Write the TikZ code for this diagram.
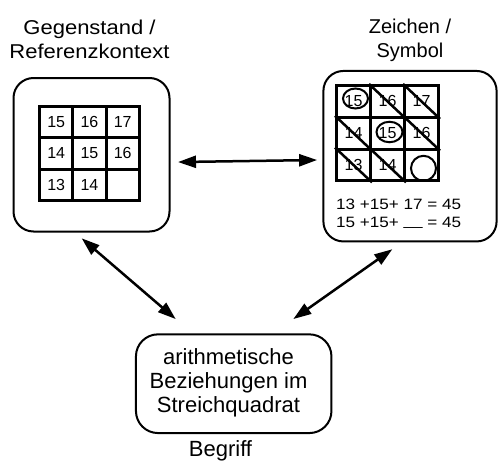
\documentclass[tikz,border=0pt]{standalone}
\usepackage{fontspec}
\setmainfont{Liberation Sans}
\newfontfamily\widesans[FakeStretch=1.1]{Liberation Sans}
\newfontfamily\eqsans[FakeStretch=1.14]{Liberation Sans}
\usetikzlibrary{arrows.meta,shapes.geometric}

\begin{document}
\begin{tikzpicture}[x=1pt,y=-1pt,
  panel/.style={draw, line width=2pt, rounded corners=20pt, inner sep=0pt},
  lcell/.style={draw, line width=3pt, inner sep=0pt,
    minimum width=33.3pt, minimum height=31.3pt, font=\fontsize{16}{16}\selectfont},
  rcell/.style={draw, line width=3pt, inner sep=0pt,
    minimum width=34pt, minimum height=31.8pt, font=\fontsize{16}{16}\selectfont},
  ring/.style={draw, ellipse, line width=2pt, inner sep=0pt},
  slash/.style={line width=2.5pt},
  caption/.style={align=center, inner sep=0pt},
  eqline/.style={anchor=base west, inner sep=0pt, font=\eqsans\fontsize{15}{15}\selectfont},
  both/.style={line width=2.5pt,
    {Triangle[length=18pt,width=12pt]}-{Triangle[length=18pt,width=12pt]}}
]
\useasboundingbox (0,0) rectangle (498,461);

% the three panels of the triangle
\node[panel, minimum width=156pt, minimum height=153.5pt] (lbox) at (91.5,154.75) {};
\node[panel, minimum width=173.2pt, minimum height=170.5pt] (rbox) at (410,156.2) {};
\node[panel, rounded corners=22pt, minimum width=195.5pt, minimum height=98.7pt] (bbox) at (233.7,383.7) {};

% headings
\node[caption, anchor=north, font=\widesans\fontsize{20}{24.4}\selectfont] (headL) at (89.5,19.9)
  {Gegenstand /\\Referenzkontext};
\node[caption, anchor=north, font=\fontsize{20}{24.4}\selectfont] (headR) at (410,18.9)
  {Zeichen /\\Symbol};
\node[caption, anchor=north, font=\fontsize{22}{23.8}\selectfont] (btext) at (228.5,348.5)
  {arithmetische\\Beziehungen im\\Streichquadrat};
\node[inner sep=0pt, anchor=base, font=\fontsize{22}{22}\selectfont] (headB) at (220.5,456) {Begriff};

% number square in the context panel
\foreach \r/\c/\t in {0/0/15,0/1/16,0/2/17,1/0/14,1/1/15,1/2/16,2/0/13,2/1/14,2/2/{}}
  \node[lcell] (L\r\c) at ({39.5+33.3*(\c+0.5)},{106.5+31.3*(\r+0.5)}) {\t};

% crossed-out square in the symbol panel
\foreach \r/\c/\t in {0/0/15,0/1/16,0/2/17,1/0/14,1/1/15,1/2/16,2/0/13,2/1/14,2/2/{}}
  \node[rcell] (R\r\c) at ({336.5+34*(\c+0.5)},{85.5+31.8*(\r+0.5)}) {\t};
\foreach \cc in {01,02,10,12,20,21}
  \draw[slash] (R\cc.north west) -- (R\cc.south east);
\node[ring, minimum width=25pt, minimum height=20pt] (ring00) at (355.5,98.5) {};
\node[ring, minimum width=26pt, minimum height=20.5pt] (ring11) at (389.5,132) {};
\node[ring, minimum width=25pt, minimum height=25pt] (ring22) at (423.5,168.3) {};

% sums below the square
\node[eqline] (eq1) at (336,209) {13 +15+ 17 = 45};
\node[eqline] (eq2) at (336,227) {15 +15+ \raisebox{2pt}{\_\_} = 45};

% connectors
\draw[both] ([shift={(7.5,7.3)}]lbox.east) -- ([shift={(-5.3,3.8)}]rbox.west);
\draw[both] ([shift={(-9.8,5.8)}]lbox.south) -- ([shift={(-58,-14.3)}]bbox.north);
\draw[both] ([shift={(-17.7,6.8)}]rbox.south) -- ([shift={(59.6,-14.3)}]bbox.north);
\end{tikzpicture}
\end{document}
